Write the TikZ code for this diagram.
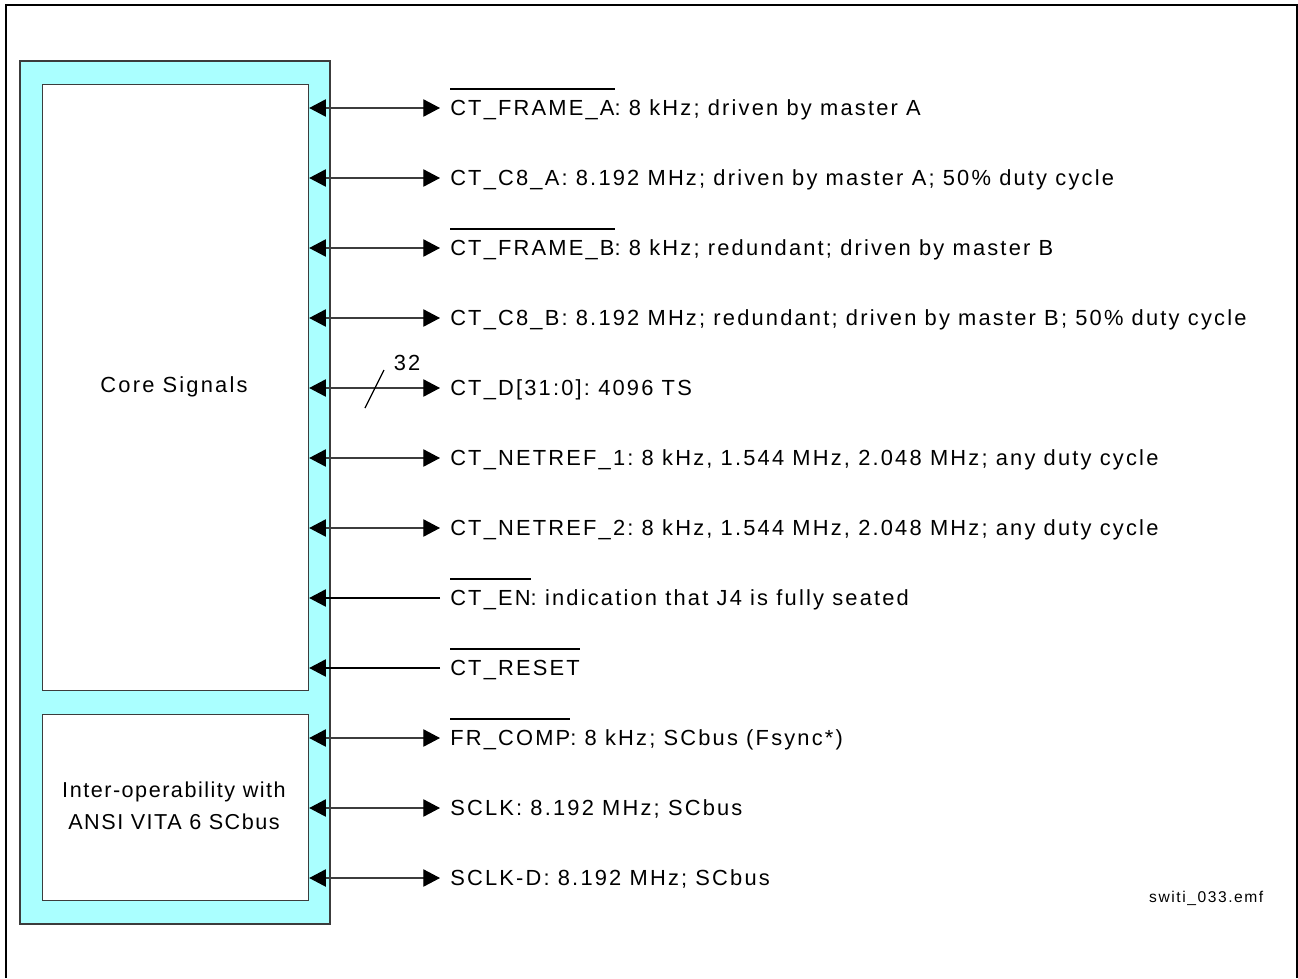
\documentclass[tikz,border=0pt]{standalone}
\usepackage{fontspec}
\setmainfont{Liberation Sans}[LetterSpace=10]
\usetikzlibrary{arrows.meta}
\frenchspacing
\definecolor{bgcyan}{RGB}{170,255,255}
\definecolor{linegray}{RGB}{60,60,60}
\newcommand{\tipsty}{Triangle[length=12.5pt,width=13pt,color=black,fill=black]}
\tikzset{
  box/.style={draw=linegray, line width=0.9pt, fill=white, inner sep=0pt},
  sigfont/.style={font=\fontsize{16.4}{19}\selectfont},
  sig/.style={anchor=base west, inner sep=0pt, sigfont},
  biarrow/.style={{\tipsty}-{\tipsty}, draw=linegray, line width=0.8pt},
  inarrow/.style={-{\tipsty}, draw=black, line width=0.8pt},
}
\newsavebox{\ovlbox}
\newcommand{\ovl}[1]{\sbox{\ovlbox}{#1}\makebox[0pt][l]{\raisebox{19.5pt}{\rule{\wd\ovlbox}{0.9pt}}}\usebox{\ovlbox}}
\begin{document}
\begin{tikzpicture}[x=0.75pt,y=-0.75pt]
\useasboundingbox (0,0) rectangle (1298,978);
% outer frame
\draw[line width=1.6pt] (6,978) -- (6,5) -- (1297,5) -- (1297,978);
% cyan container
\draw[fill=bgcyan, draw=linegray, line width=0.8pt] (20,61) rectangle (330,924);
\node[box, minimum width=266*0.75pt, minimum height=606*0.75pt, anchor=north west] (core) at (42,84) {};
\node[box, minimum width=266*0.75pt, minimum height=186*0.75pt, anchor=north west] (inter) at (42,714) {};
\node[sigfont] (coretxt) at (174,387) {Core Signals};
\node[sigfont, align=center, font=\fontsize{16.2}{19}\selectfont\addfontfeature{LetterSpace=7}] (intertxt) at (174,806) {Inter-operability with\\[5pt]ANSI VITA 6 SCbus};
% signals
\foreach \n/\y in {1/108,2/178,3/248,4/318,5/388,6/458,7/528,8/598,9/668,10/738,11/808,12/878}{
  \coordinate (e\n) at (440,\y);
  \coordinate (b\n) at (450,\y+7.5);
}
\node[sig] (s1) at (b1) {\ovl{CT\_FRAME\_A}: 8 kHz; driven by master A};
\node[sig] (s2) at (b2) {CT\_C8\_A: 8.192 MHz; driven by master A; 50\% duty cycle};
\node[sig] (s3) at (b3) {\ovl{CT\_FRAME\_B}: 8 kHz; redundant; driven by master B};
\node[sig] (s4) at (b4) {CT\_C8\_B: 8.192 MHz; redundant; driven by master B; 50\% duty cycle};
\node[sig] (s5) at (b5) {CT\_D[31:0]: 4096 TS};
\node[sig] (s6) at (b6) {CT\_NETREF\_1: 8 kHz, 1.544 MHz, 2.048 MHz; any duty cycle};
\node[sig] (s7) at (b7) {CT\_NETREF\_2: 8 kHz, 1.544 MHz, 2.048 MHz; any duty cycle};
\node[sig] (s8) at (b8) {\ovl{CT\_EN}: indication that J4 is fully seated};
\node[sig] (s9) at (b9) {\ovl{CT\_RESET}};
\node[sig] (s10) at (b10) {\ovl{FR\_COMP}: 8 kHz; SCbus (Fsync*)};
\node[sig] (s11) at (b11) {SCLK: 8.192 MHz; SCbus};
\node[sig] (s12) at (b12) {SCLK-D: 8.192 MHz; SCbus};
\foreach \n in {1,2,3,4,5,6,7}{
  \draw[biarrow] (core.east |- e\n) -- (e\n);
}
\foreach \n in {8,9}{
  \draw[inarrow] (e\n) -- (core.east |- e\n);
}
\foreach \n in {10,11,12}{
  \draw[biarrow] (inter.east |- e\n) -- (e\n);
}
% bus width slash
\coordinate (sl1) at (365,408);
\coordinate (sl2) at (384,370);
\draw[line width=0.9pt] (sl1) -- (sl2);
\node[sigfont] (w32) at (407,363) {32};
\node[font=\fontsize{11.7}{14}\selectfont, anchor=east] (fname) at (1268,898) {switi\_033.emf};
\end{tikzpicture}
\end{document}
